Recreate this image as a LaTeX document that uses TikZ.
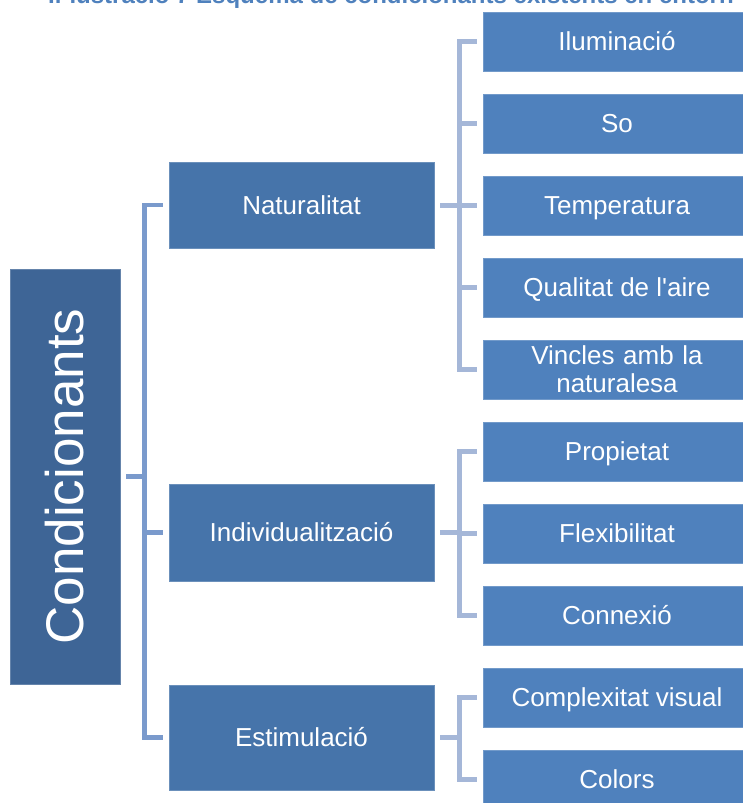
\documentclass[tikz,border=0pt]{standalone}
\usepackage{fontspec}
\setmainfont{Liberation Sans}
\definecolor{rootc}{RGB}{62,101,150}
\definecolor{midc}{RGB}{70,116,170}
\definecolor{leafc}{RGB}{79,129,189}
\definecolor{lconnc}{RGB}{122,154,204}
\definecolor{rconnc}{RGB}{165,183,216}
\definecolor{titlec}{RGB}{79,129,189}
\begin{document}
\begin{tikzpicture}[x=1pt,y=-1pt,
  box/.style={inner sep=0pt, text=white, align=center, line width=0.8pt},
  oneline/.style={text height=18.7pt, text depth=0pt},
  rootbox/.style={box, fill=rootc, draw=rootc!80!white, minimum width=110pt, minimum height=415pt},
  midbox/.style={box, oneline, fill=midc, draw=midc!80!white, minimum width=265pt, font=\fontsize{26}{28}\selectfont},
  leafbox/.style={box, fill=leafc, draw=leafc!80!white, minimum width=268pt, minimum height=59pt, font=\fontsize{26}{28}\selectfont},
  leaf/.style={leafbox, oneline},
  lconn/.style={draw=lconnc, line width=4.5pt},
  rconn/.style={draw=rconnc, line width=5pt},
  ttl/.style={font=\fontsize{24}{28}\selectfont\bfseries, text=titlec, inner sep=0pt}]
\useasboundingbox (0,0) rectangle (743,803);
\clip (0,0) rectangle (743,803);
\node[ttl, anchor=base west] (title) at (48,4) {Il·lustració 7 Esquema de condicionants existents en entorn};
% root
\node[rootbox] (root) at (65,476.5) {};
\node[text=white, font=\fontsize{53}{60}\selectfont, rotate=90, inner sep=0pt] (roott) at (root.center) {Condicionants};
% mid level
\node[midbox, minimum height=86pt] (nat) at (301.5,205) {Naturalitat};
\node[midbox, minimum height=97pt] (ind) at (301.5,532.5) {Individualització};
\node[midbox, minimum height=105pt] (est) at (301.5,737.5) {Estimulació};
% leaves
\node[leaf] (ilu) at (617,41.5) {Iluminació};
\node[leaf] (so) at (617,123.5) {So};
\node[leaf] (tem) at (617,205.5) {Temperatura};
\node[leaf] (qua) at (617,287.5) {Qualitat de l\textquotesingle aire};
\node[leafbox, text width=250pt] (vin) at (617,369.5) {Vincles amb la\\naturalesa};
\node[leaf] (pro) at (617,451.5) {Propietat};
\node[leaf] (fle) at (617,533.5) {Flexibilitat};
\node[leaf] (con) at (617,615.5) {Connexió};
\node[leaf] (com) at (617,697.5) {Complexitat visual};
\node[leaf] (col) at (617,779.5) {Colors};
% connector columns
\coordinate (lx) at (144.5,0);
\coordinate (rx) at (459,0);
% left bracket
\draw[lconn] ([xshift=-6pt]nat.west) -- (nat.west -| lx) -- (est.west -| lx) -- ([xshift=-6pt]est.west);
\draw[lconn] ([xshift=6pt]root.east) -- (root.east -| lx);
\draw[lconn] (ind.west -| lx) -- ([xshift=-6pt]ind.west);
% Naturalitat bracket
\draw[rconn] ([xshift=-6pt]ilu.west) -- (ilu.west -| rx) -- (vin.west -| rx) -- ([xshift=-6pt]vin.west);
\draw[rconn] ([xshift=6pt]nat.east) -- (nat.east -| rx);
\draw[rconn] (so.west -| rx) -- ([xshift=-6pt]so.west);
\draw[rconn] (tem.west -| rx) -- ([xshift=-6pt]tem.west);
\draw[rconn] (qua.west -| rx) -- ([xshift=-6pt]qua.west);
% Individualitzacio bracket
\draw[rconn] ([xshift=-6pt]pro.west) -- (pro.west -| rx) -- (con.west -| rx) -- ([xshift=-6pt]con.west);
\draw[rconn] ([xshift=6pt]ind.east) -- (ind.east -| rx);
\draw[rconn] (fle.west -| rx) -- ([xshift=-6pt]fle.west);
% Estimulacio bracket
\draw[rconn] ([xshift=-6pt]com.west) -- (com.west -| rx) -- (col.west -| rx) -- ([xshift=-6pt]col.west);
\draw[rconn] ([xshift=6pt]est.east) -- (est.east -| rx);
\end{tikzpicture}
\end{document}
